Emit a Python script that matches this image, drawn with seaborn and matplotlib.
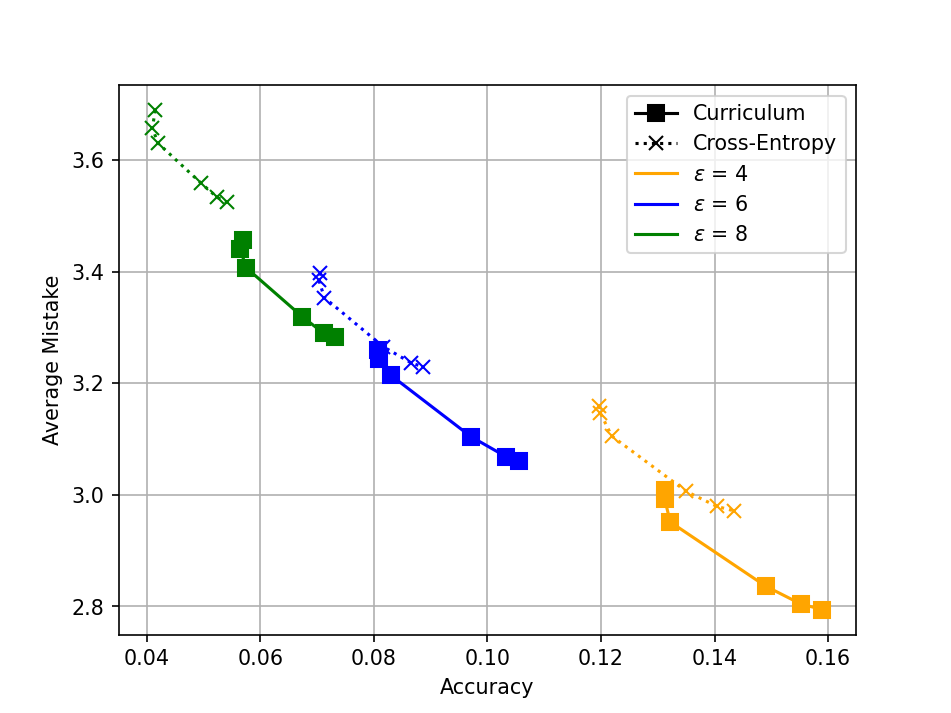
import matplotlib
matplotlib.use("Agg")
import matplotlib.pyplot as plt
from matplotlib.lines import Line2D
import seaborn as sns
import pandas as pd

epsilons = [4, 6, 8]
colors = {4: "orange", 6: "blue", 8: "green"}

# Curriculum
cur_acc_4 = [0.1312, 0.1312, 0.1322, 0.1490, 0.1552, 0.1590]
cur_mis_4 = [3.008, 2.993, 2.951, 2.836, 2.804, 2.794]
cur_acc_6 = [0.0807, 0.0809, 0.0830, 0.0971, 0.1033, 0.1055]
cur_mis_6 = [3.260, 3.244, 3.214, 3.104, 3.068, 3.060]
cur_acc_8 = [0.0570, 0.0565, 0.0575, 0.0674, 0.0712, 0.0732]
cur_mis_8 = [3.456, 3.440, 3.407, 3.319, 3.289, 3.282]

# Cross-Entropy
ce_acc_4 = [0.1197, 0.1199, 0.1219, 0.1350, 0.1404, 0.1434]
ce_mis_4 = [3.159, 3.146, 3.105, 3.006, 2.979, 2.971]
ce_acc_6 = [0.0706, 0.0703, 0.0713, 0.0817, 0.0866, 0.0887]
ce_mis_6 = [3.398, 3.385, 3.353, 3.265, 3.236, 3.229]
ce_acc_8 = [0.0415, 0.0410, 0.0420, 0.0495, 0.0524, 0.0541]
ce_mis_8 = [3.689, 3.657, 3.630, 3.559, 3.533, 3.524]

cur = {4: (cur_acc_4, cur_mis_4), 6: (cur_acc_6, cur_mis_6), 8: (cur_acc_8, cur_mis_8)}
ce = {4: (ce_acc_4, ce_mis_4), 6: (ce_acc_6, ce_mis_6), 8: (ce_acc_8, ce_mis_8)}

fig, ax = plt.subplots(figsize=(6.4, 4.8), dpi=148.6)

for e in epsilons:
    c = colors[e]
    xs, ys = cur[e]
    df = pd.DataFrame({"Accuracy": xs, "Average Mistake": ys})
    sns.lineplot(data=df, x="Accuracy", y="Average Mistake", ax=ax, sort=False,
                 estimator=None, color=c, marker="s", linestyle="-",
                 markersize=7.5, mec=c, mew=1.0, linewidth=1.5)
    xs, ys = ce[e]
    df = pd.DataFrame({"Accuracy": xs, "Average Mistake": ys})
    sns.lineplot(data=df, x="Accuracy", y="Average Mistake", ax=ax, sort=False,
                 estimator=None, color=c, marker="x", linestyle=":",
                 markersize=7, mec=c, mew=1.0, linewidth=1.5)

ax.grid(True)
ax.set_axisbelow(True)
ax.set_xlabel("Accuracy")
ax.set_ylabel("Average Mistake")
ax.set_xticks([0.04, 0.06, 0.08, 0.10, 0.12, 0.14, 0.16])
ax.set_xticklabels(["0.04", "0.06", "0.08", "0.10", "0.12", "0.14", "0.16"])

handles = [
    Line2D([], [], color="black", marker="s", linestyle="-", markersize=7.5),
    Line2D([], [], color="black", marker="x", linestyle=":", markersize=7),
] + [Line2D([], [], color=colors[e]) for e in epsilons]
labels = ["Curriculum", "Cross-Entropy"] + [r"$\varepsilon$ = %d" % e for e in epsilons]
ax.legend(handles, labels, loc="upper right")

fig.savefig("out.png", dpi=148.6)
